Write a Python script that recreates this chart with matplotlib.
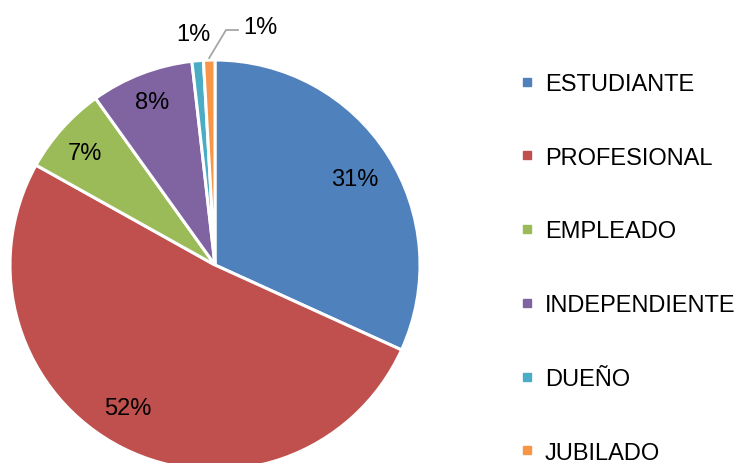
import matplotlib
matplotlib.use("Agg")
import matplotlib.pyplot as plt
from matplotlib.lines import Line2D
import numpy as np

categories = ["ESTUDIANTE", "PROFESIONAL", "EMPLEADO", "INDEPENDIENTE", "DUEÑO", "JUBILADO"]
values = [31.8, 51.3, 7.0, 8.1, 0.9, 0.9]
labels = ["31%", "52%", "7%", "8%", "1%", "1%"]
colors = ["#4F81BD", "#C0504D", "#9BBB59", "#8064A2", "#4BACC6", "#F79646"]

plt.rcParams['font.family'] = ['Liberation Sans', 'DejaVu Sans']

W, H = 741, 464
fig = plt.figure(figsize=(W/100, H/100), dpi=100)
cx, cy, r = 215, 266, 205
ax = fig.add_axes([(cx - r)/W, (H - cy - r)/H, 2*r/W, 2*r/H])

wedges, _ = ax.pie(values, colors=colors, startangle=90, counterclock=False,
                   radius=1, wedgeprops=dict(edgecolor='white', linewidth=2.2))
ax.set_xlim(-1, 1)
ax.set_ylim(-1, 1)
ax.axis('off')

dists = [0.80, 0.81, 0.85, 0.87]
# pixel nudges (dx right, dy down)
nudges = [(2, 3), (-12, -5), (0, 4), (1, 3), (8, 2), (3, 3)]
fs = 17
for i, w in enumerate(wedges):
    ang = np.deg2rad((w.theta1 + w.theta2) / 2)
    ndx, ndy = nudges[i][0]/r, -nudges[i][1]/r
    if i < 4:
        d = dists[i]
        ax.text(d*np.cos(ang) + ndx, d*np.sin(ang) + ndy, labels[i], ha='center', va='center', fontsize=fs)
    elif i == 4:
        d = 1.14
        ax.text(d*np.cos(ang) - 0.05 + ndx, d*np.sin(ang) + ndy, labels[i], ha='center', va='center', fontsize=fs)
    else:
        x0, y0 = 1.01*np.cos(ang), 1.01*np.sin(ang)
        x1, y1 = (226 - cx)/r, (cy - 31)/r
        x2 = (238 - cx)/r
        ax.plot([x0, x1, x2], [y0, y1, y1], color='#A6A6A6', lw=1.3, clip_on=False)
        ax.text(x2 + 0.01 + ndx, y1 + 0.03 + ndy, labels[i], ha='left', va='center', fontsize=fs)

for t in ax.texts:
    t.set_clip_on(False)

handles = [Line2D([], [], marker='s', linestyle='none', markersize=6, markerfacecolor=c,
                  markeredgecolor=c) for c in colors]
fig.legend(handles, categories, loc='upper left', bbox_to_anchor=(520/W, 1 - 74/H),
           frameon=False, fontsize=fs, labelspacing=2.19, handlelength=0.6,
           handletextpad=0.45, borderaxespad=0, borderpad=0)

fig.savefig("out.png", dpi=100)
